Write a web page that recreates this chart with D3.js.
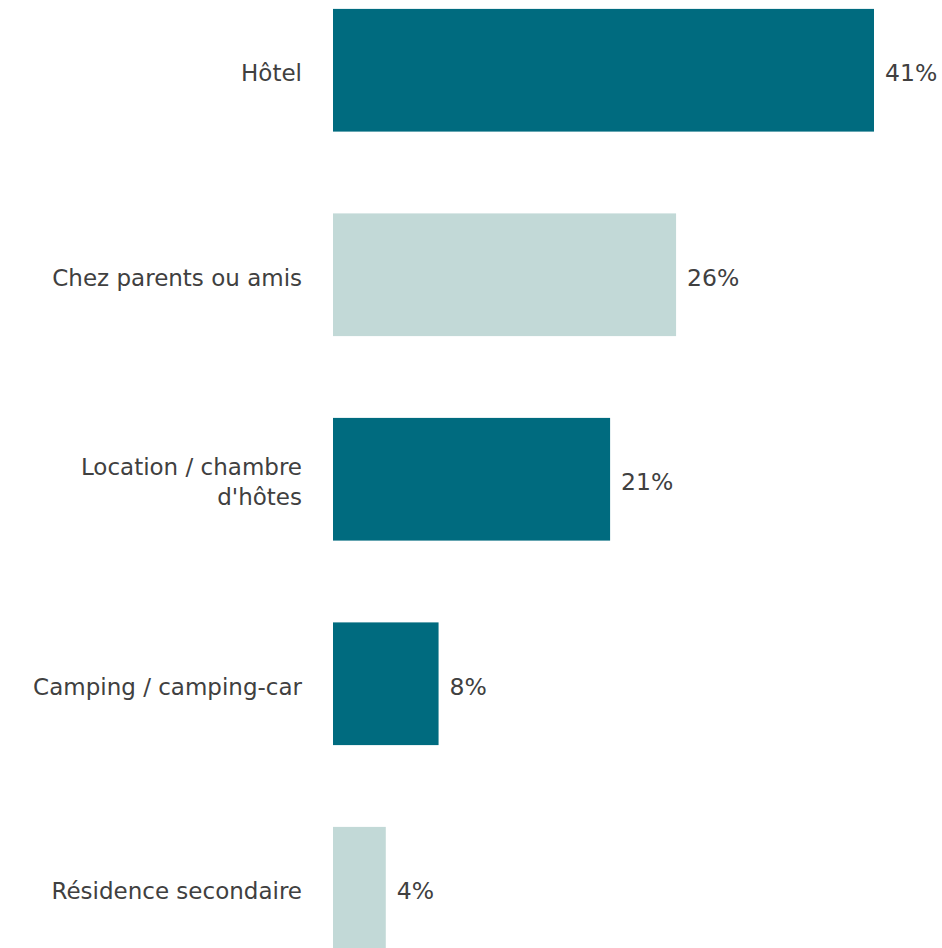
<!DOCTYPE html>
<html>
<head>
<meta charset="utf-8">
<script src="https://cdn.jsdelivr.net/npm/d3@7"></script>
<style>
  body { margin: 0; background: #fff; }
  svg text { font-family: "DejaVu Sans", sans-serif; fill: #404040; }
</style>
</head>
<body>
<div id="chart"></div>
<script>
// data
var categories = ["Hôtel", "Chez parents ou amis", "Location / chambre d'hôtes", "Camping / camping-car", "Résidence secondaire"];
var labelLines = [["Hôtel"], ["Chez parents ou amis"], ["Location / chambre", "d'hôtes"], ["Camping / camping-car"], ["Résidence secondaire"]];
var values = [41, 26, 21, 8, 4];
var barColors = ["#006b7f", "#c2d9d7", "#006b7f", "#006b7f", "#c2d9d7"];

var width = 942, height = 948;

var svg = d3.select("#chart").append("svg")
    .attr("width", width)
    .attr("height", height);

var x = d3.scaleLinear()
    .domain([0, 41])
    .range([333, 874]);

// last bar runs off the bottom, like in the original
var y = d3.scaleBand()
    .domain(categories)
    .range([-32, 990.5])
    .paddingInner(0.4)
    .paddingOuter(0.2);

var rows = categories.map(function(c, i) {
    return { cat: c, lines: labelLines[i], value: values[i], color: barColors[i] };
});

// bars
svg.selectAll(".bar")
    .data(rows)
    .enter()
    .append("rect")
    .attr("class", "bar")
    .attr("x", x(0))
    .attr("y", function(d) { return y(d.cat); })
    .attr("width", function(d) { return x(d.value) - x(0); })
    .attr("height", y.bandwidth())
    .attr("fill", function(d) { return d.color; });

// value labels
svg.selectAll(".value")
    .data(rows)
    .enter()
    .append("text")
    .attr("class", "value")
    .attr("x", function(d) { return x(d.value) + 11; })
    .attr("y", function(d) { return y(d.cat) + y.bandwidth() / 2 + 3; })
    .attr("dy", "0.35em")
    .style("font-size", "23.5px")
    .text(function(d) { return d.value + "%"; });

// category labels (some on two lines)
var lineH = 30;
var cats = svg.selectAll(".cat")
    .data(rows)
    .enter()
    .append("text")
    .attr("class", "cat")
    .attr("text-anchor", "end")
    .style("font-size", "23px");

cats.selectAll("tspan")
    .data(function(d) {
        var mid = y(d.cat) + y.bandwidth() / 2 + 3;
        var top = mid - (d.lines.length - 1) * lineH / 2;
        return d.lines.map(function(l, j) { return { text: l, y: top + j * lineH }; });
    })
    .enter()
    .append("tspan")
    .attr("x", 302)
    .attr("y", function(t) { return t.y; })
    .attr("dy", "0.35em")
    .text(function(t) { return t.text; });
</script>
</body>
</html>
